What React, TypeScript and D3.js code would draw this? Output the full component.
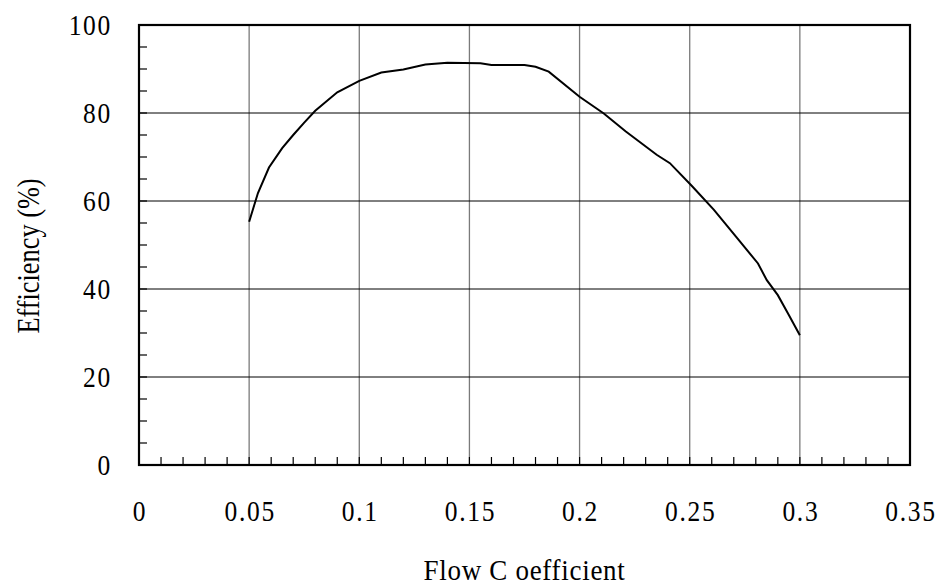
import * as d3 from "d3";
import { useEffect, useRef } from "react";

// flow coefficient vs efficiency (%)
const flowCoeff = [
  0.05, 0.054, 0.059, 0.065, 0.07, 0.075, 0.08, 0.09, 0.1, 0.11, 0.12, 0.13,
  0.14, 0.155, 0.16, 0.175, 0.18, 0.186, 0.2, 0.211, 0.221, 0.235, 0.241,
  0.251, 0.261, 0.271, 0.281, 0.285, 0.29, 0.295, 0.3,
];
const efficiency = [
  55.3, 61.8, 67.6, 72.0, 75.0, 77.8, 80.5, 84.7, 87.3, 89.2, 89.9, 91.0,
  91.4, 91.3, 90.9, 90.9, 90.5, 89.4, 83.7, 79.9, 75.8, 70.5, 68.6, 63.4,
  58.0, 51.9, 45.8, 42.0, 38.6, 34.1, 29.5,
];

const xTicks = [0, 0.05, 0.1, 0.15, 0.2, 0.25, 0.3, 0.35];
const xTickLabels = ["0", "0.05", "0.1", "0.15", "0.2", "0.25", "0.3", "0.35"];
const yTicks = [0, 20, 40, 60, 80, 100];

export default function App() {
  const ref = useRef<SVGSVGElement | null>(null);

  useEffect(() => {
    if (!ref.current) return;
    const width = 943;
    const height = 586;
    const margin = { top: 25, right: 33, bottom: 121, left: 139 };
    const font = "'Liberation Serif', 'DejaVu Serif', serif";
    const squeeze = 0.85; // labels in the original look narrow

    const x = d3
      .scaleLinear()
      .domain([0, 0.35])
      .range([margin.left, width - margin.right]);
    const y = d3
      .scaleLinear()
      .domain([0, 100])
      .range([height - margin.bottom, margin.top]);

    const svg = d3.select(ref.current);
    svg.selectAll("*").remove();

    svg.append("rect").attr("width", width).attr("height", height).attr("fill", "#fff");

    // grid
    svg
      .append("g")
      .selectAll("line")
      .data(xTicks.slice(1, -1))
      .join("line")
      .attr("x1", (d) => x(d))
      .attr("x2", (d) => x(d))
      .attr("y1", y(0))
      .attr("y2", y(100))
      .attr("stroke", "#7a7a7a")
      .attr("stroke-width", 1.3);
    svg
      .append("g")
      .selectAll("line")
      .data(yTicks.slice(1, -1))
      .join("line")
      .attr("x1", x(0))
      .attr("x2", x(0.35))
      .attr("y1", (d) => y(d))
      .attr("y2", (d) => y(d))
      .attr("stroke", "#000")
      .attr("stroke-width", 1);

    // minor ticks
    svg
      .append("g")
      .selectAll("line")
      .data(d3.range(1, 35))
      .join("line")
      .attr("x1", (d) => x(d / 100))
      .attr("x2", (d) => x(d / 100))
      .attr("y1", y(0))
      .attr("y2", y(0) - 8)
      .attr("stroke", "#000")
      .attr("stroke-width", 1.2);
    svg
      .append("g")
      .selectAll("line")
      .data(d3.range(5, 100, 5))
      .join("line")
      .attr("x1", x(0))
      .attr("x2", x(0) + 8)
      .attr("y1", (d) => y(d))
      .attr("y2", (d) => y(d))
      .attr("stroke", "#000")
      .attr("stroke-width", 1.2);

    // frame
    svg
      .append("rect")
      .attr("x", x(0))
      .attr("y", y(100))
      .attr("width", x(0.35) - x(0))
      .attr("height", y(0) - y(100))
      .attr("fill", "none")
      .attr("stroke", "#000")
      .attr("stroke-width", 2.2);

    // curve
    const line = d3
      .line<number>()
      .x((_, i) => x(flowCoeff[i]))
      .y((d) => y(d));
    svg
      .append("path")
      .datum(efficiency)
      .attr("d", line)
      .attr("fill", "none")
      .attr("stroke", "#000")
      .attr("stroke-width", 2);

    // tick labels
    svg
      .append("g")
      .selectAll("text")
      .data(xTicks)
      .join("text")
      .attr("transform", (d) => `translate(${x(d) + 1},521) scale(${squeeze},1)`)
      .attr("text-anchor", "middle")
      .attr("font-family", font)
      .attr("font-size", 30)
      .attr("letter-spacing", 2)
      .text((_, i) => xTickLabels[i]);
    svg
      .append("g")
      .selectAll("text")
      .data(yTicks)
      .join("text")
      .attr("transform", (d) => `translate(112,${y(d) + 10}) scale(${squeeze},1)`)
      .attr("text-anchor", "end")
      .attr("font-family", font)
      .attr("font-size", 30)
      .attr("letter-spacing", 2)
      .text((d) => String(d));

    // titles
    svg
      .append("text")
      .attr("transform", `translate(${(x(0) + x(0.35)) / 2},580) scale(0.9,1)`)
      .attr("text-anchor", "middle")
      .attr("font-family", font)
      .attr("font-size", 30)
      .attr("letter-spacing", 0.8)
      .text("Flow C oefficient");
    svg
      .append("text")
      .attr("transform", `translate(39,256) rotate(-90) scale(${squeeze},1)`)
      .attr("text-anchor", "middle")
      .attr("font-family", font)
      .attr("font-size", 31)
      .text("Efficiency (%)");
  }, []);

  return (
    <svg
      ref={ref}
      width={943}
      height={586}
      style={{ position: "absolute", left: 0, top: 0 }}
    ></svg>
  );
}
